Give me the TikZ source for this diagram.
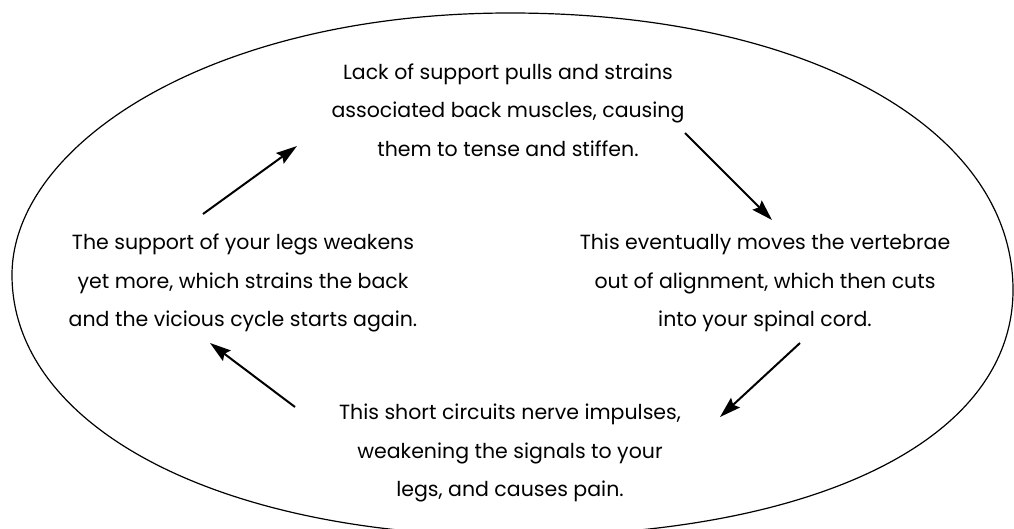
\documentclass[tikz,border=0pt]{standalone}
\usepackage{fontspec}
\setmainfont{Poppins}
\usetikzlibrary{arrows.meta}
\tikzset{
  txt/.style={align=center, font=\fontsize{20.5pt}{38.5pt}\selectfont, inner sep=0pt},
  cyc/.style={line width=2pt, -{Stealth[length=21pt,width=13pt,inset=3pt]}},
  rim/.style={line width=1.2pt}
}
\begin{document}
\begin{tikzpicture}[x=1pt,y=-1pt]
\useasboundingbox (0,0) rectangle (1014,529);
\begin{scope}
\clip (0,0) rectangle (1014,529);
\coordinate (eL) at (12,275);
\coordinate (eT) at (510,13);
\coordinate (eR) at (1013,290);
\coordinate (eB) at (515,536);
\draw[rim] (eL) .. controls (12,145) and (210,13) .. (eT)
  .. controls (810,13) and (1013,130) .. (eR)
  .. controls (1013,440) and (815,536) .. (eB)
  .. controls (215,536) and (12,425) .. (eL) -- cycle;
\end{scope}
\node[txt] (top) at (508,110) {Lack of support pulls and strains\\associated back muscles, causing\\them to tense and stiffen.};
\node[txt] (right) at (765,283) {This eventually moves the vertebrae\\out of alignment, which then cuts\\into your spinal cord.};
\node[txt] (bottom) at (510,453) {This short circuits nerve impulses,\\weakening the signals to your\\legs, and causes pain.};
\node[txt] (left) at (243,283) {The support of your legs weakens\\yet more, which strains the back\\and the vicious cycle starts again.};
\coordinate (a1s) at (203,214); \coordinate (a1e) at (297,146);
\coordinate (a2s) at (685,133); \coordinate (a2e) at (772,220);
\coordinate (a3s) at (800,343); \coordinate (a3e) at (720,417);
\coordinate (a4s) at (295,407); \coordinate (a4e) at (210,343);
\draw[cyc] (a1s) -- (a1e);
\draw[cyc] (a2s) -- (a2e);
\draw[cyc] (a3s) -- (a3e);
\draw[cyc] (a4s) -- (a4e);
\end{tikzpicture}
\end{document}
